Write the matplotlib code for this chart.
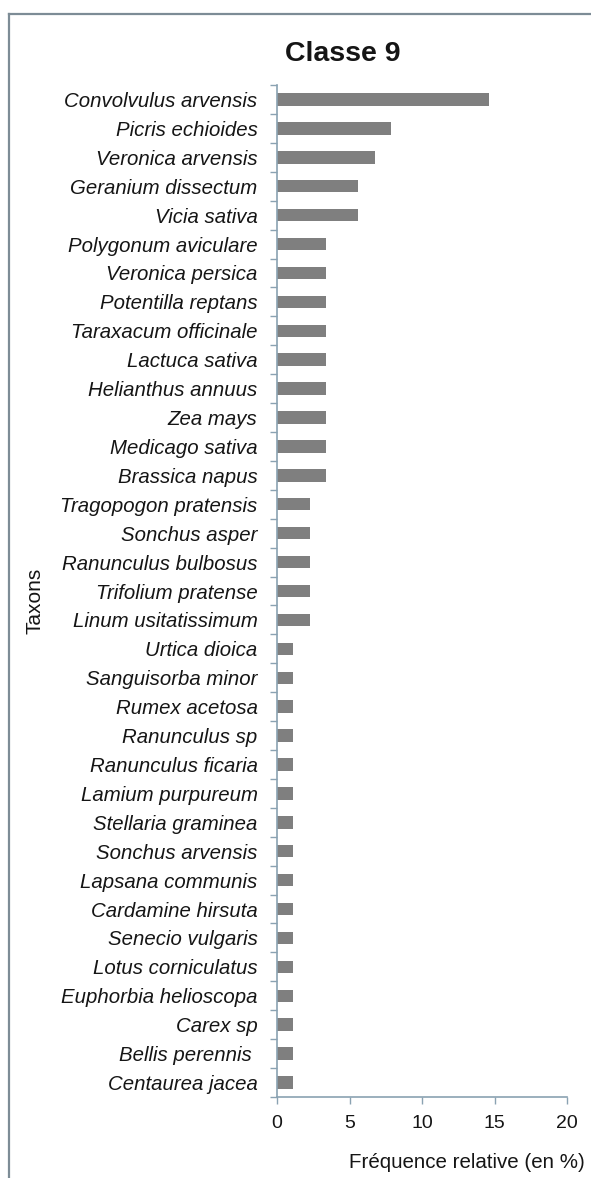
import matplotlib
matplotlib.use("Agg")
import matplotlib.pyplot as plt
from matplotlib.lines import Line2D
import numpy as np

plt.rcParams['font.family'] = ['Liberation Sans', 'DejaVu Sans']

taxons = [
    "Convolvulus arvensis", "Picris echioides", "Veronica arvensis",
    "Geranium dissectum", "Vicia sativa", "Polygonum aviculare",
    "Veronica persica", "Potentilla reptans", "Taraxacum officinale",
    "Lactuca sativa", "Helianthus annuus", "Zea mays", "Medicago sativa",
    "Brassica napus", "Tragopogon pratensis", "Sonchus asper",
    "Ranunculus bulbosus", "Trifolium pratense", "Linum usitatissimum",
    "Urtica dioica", "Sanguisorba minor", "Rumex acetosa", "Ranunculus sp",
    "Ranunculus ficaria", "Lamium purpureum", "Stellaria graminea",
    "Sonchus arvensis", "Lapsana communis", "Cardamine hirsuta",
    "Senecio vulgaris", "Lotus corniculatus", "Euphorbia helioscopa",
    "Carex sp", "Bellis perennis ", "Centaurea jacea",
]
frequence = [
    14.61, 7.87, 6.74, 5.62, 5.62,
    3.37, 3.37, 3.37, 3.37, 3.37, 3.37, 3.37, 3.37, 3.37,
    2.25, 2.25, 2.25, 2.25, 2.25,
    1.12, 1.12, 1.12, 1.12, 1.12, 1.12, 1.12, 1.12,
    1.12, 1.12, 1.12, 1.12, 1.12, 1.12, 1.12, 1.12,
]
xticks = [0, 5, 10, 15, 20]

axis_col = "#8aa2b2"
text_col = "#151515"

fig = plt.figure(figsize=(5.91, 11.78), dpi=100)
ax = fig.add_axes([0.4687, 0.0688, 0.4907, 0.859])

y = np.arange(len(taxons))
ax.barh(y, frequence, height=0.43, color="#7f7f7f")
ax.set_ylim(len(taxons) - 0.5, -0.5)
ax.set_xlim(0, 20)

ax.set_yticks(y)
ax.set_yticklabels(taxons, style="italic", fontsize=14.7, color=text_col)
ax.set_yticks(np.arange(-0.5, len(taxons)), minor=True)
ax.tick_params(axis="y", which="major", length=0, pad=14)
ax.tick_params(axis="y", which="minor", length=5, color=axis_col, width=1)

ax.set_xticks(xticks)
ax.set_xticklabels([str(t) for t in xticks], fontsize=14, color=text_col)
ax.tick_params(axis="x", length=5, color=axis_col, width=1, pad=8)

for side in ("top", "right"):
    ax.spines[side].set_visible(False)
for side in ("left", "bottom"):
    ax.spines[side].set_color(axis_col)
    ax.spines[side].set_linewidth(1.2)

fig.text(0.58, 0.954, "Classe 9", ha="center", va="center",
         fontsize=20.5, fontweight="bold", color=text_col)
fig.text(0.059, 0.49, "Taxons", ha="center", va="center", rotation=90,
         fontsize=15, color=text_col)
fig.text(0.99, 0.013, "Fréquence relative (en %)", ha="right", va="center",
         fontsize=14.8, color=text_col)

# frame lines along the top and left of the figure
fig.add_artist(Line2D([0.015, 1.0], [0.988, 0.988], color="#7d8c96", lw=1.6))
fig.add_artist(Line2D([0.015, 0.015], [0.0, 0.988], color="#7d8c96", lw=1.6))

fig.savefig("out.png", dpi=100, facecolor="white")
